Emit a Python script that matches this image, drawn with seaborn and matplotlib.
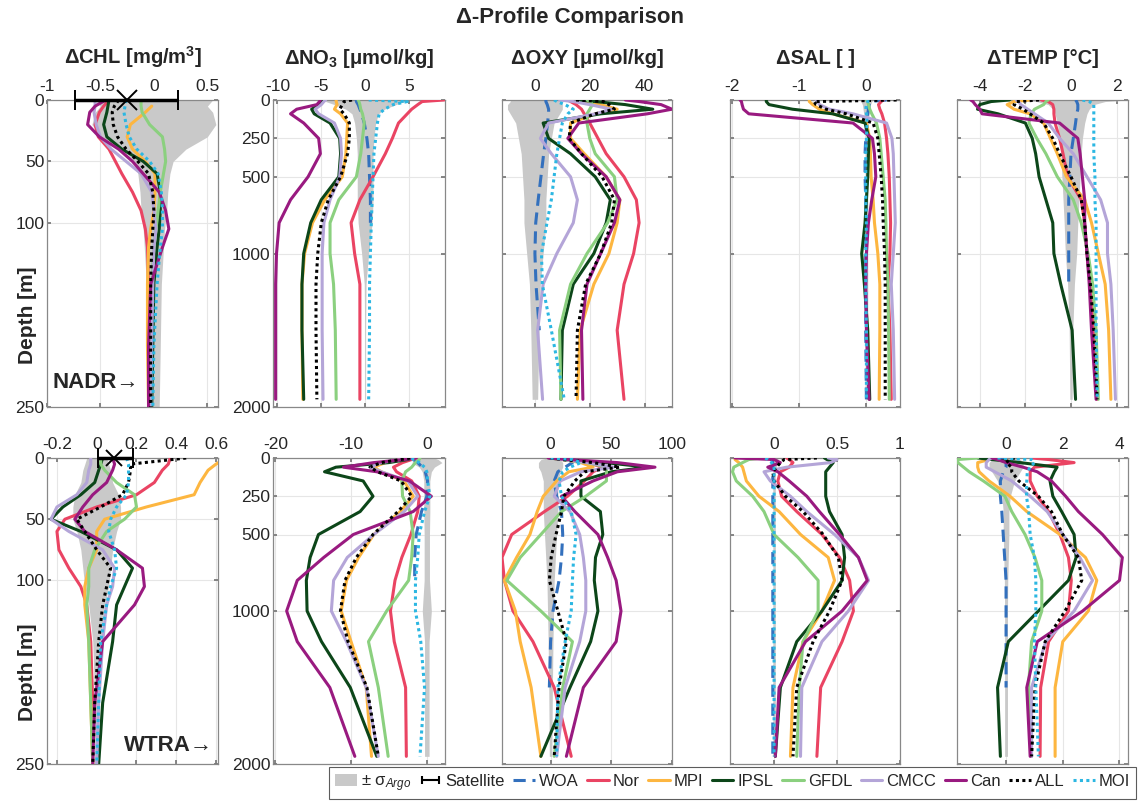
import numpy as np
import pandas as pd
import matplotlib
matplotlib.use("Agg")
import matplotlib.pyplot as plt
import seaborn as sns
from matplotlib.patches import Patch
from matplotlib.lines import Line2D

nan = np.nan

# depth grids [m]
depth_chl = [0, 5, 10, 20, 30, 40, 50, 60, 75, 90, 105, 120, 150, 200, 250]
depth_deep = [0, 10, 30, 60, 90, 150, 250, 350, 500, 650, 800, 1000, 1200, 1500, 1950]

models = ["WOA", "Nor", "MPI", "IPSL", "GFDL", "CMCC", "Can", "ALL", "MOI"]

# ---------------- NADR (top row) ----------------
nadr_chl = {
    "Nor": [-0.42, -0.47, -0.51, -0.55, -0.52, -0.42, -0.36, -0.3, -0.2, -0.12, -0.08, -0.06, -0.05, -0.05, -0.05],
    "MPI": [nan, -0.02, -0.08, -0.22, -0.25, -0.2, -0.08, 0.01, 0.01, 0.0, -0.03, -0.05, -0.06, -0.06, -0.05],
    "IPSL": [-0.42, -0.43, -0.44, -0.47, -0.44, -0.3, -0.1, 0.03, 0.06, 0.06, 0.05, 0.03, 0.0, -0.01, -0.02],
    "GFDL": [-0.12, -0.12, -0.11, -0.04, 0.08, 0.1, 0.11, 0.09, 0.06, 0.04, 0.02, 0.0, -0.02, -0.03, -0.03],
    "CMCC": [-0.55, -0.55, -0.56, -0.54, -0.5, -0.4, -0.26, -0.12, -0.02, 0.0, 0.02, 0.0, -0.01, -0.02, -0.03],
    "Can": [-0.45, -0.55, -0.6, -0.62, -0.51, -0.33, -0.2, -0.1, 0.05, 0.11, 0.14, 0.08, -0.03, -0.05, -0.05],
    "ALL": [-0.33, -0.37, -0.39, -0.38, -0.34, -0.26, -0.15, -0.05, -0.01, 0.0, -0.01, -0.02, -0.03, -0.03, -0.03],
    "MOI": [-0.26, -0.27, -0.28, -0.26, -0.23, -0.16, -0.04, 0.04, 0.07, 0.08, 0.08, 0.06, 0.03, 0.0, -0.01],
}
nadr_chl_sigma = [0.55, 0.5, 0.55, 0.58, 0.5, 0.3, 0.18, 0.15, 0.13, 0.12, 0.1, 0.09, 0.07, 0.06, 0.05]
nadr_sat = [-0.25, -0.74, 0.23]  # centre, low, high

nadr_no3 = {
    "WOA": [-1.0, -1.0, -0.8, -0.6, -0.4, -0.1, 0.2, 0.4, 0.5, 0.6, 0.6, nan, nan, nan, nan],
    "Nor": [9.0, 6.5, 6.0, 5.3, 4.8, 3.8, 3.1, 2.3, 0.9, -0.6, -1.6, -1.2, -0.6, -0.6, -0.6],
    "MPI": [-3.3, -3.3, -3.2, -3.5, -2.8, -2.0, -2.1, -2.2, -2.6, -4.6, -6.0, -6.9, -7.2, -7.2, -7.1],
    "IPSL": [-4.9, -5.0, -5.2, -6.1, -5.8, -4.0, -2.9, -2.8, -3.0, -5.0, -6.2, -7.0, -7.2, -7.2, -7.0],
    "GFDL": [-0.8, -0.7, -0.6, -0.5, -0.3, -0.1, -0.3, -0.5, -1.0, -3.0, -4.0, -4.0, -3.6, -3.4, -3.3],
    "CMCC": [-4.5, -4.7, -5.0, -5.7, -5.3, -3.5, -2.8, -2.7, -2.9, -4.0, -4.7, -4.9, -4.9, -4.9, -4.8],
    "Can": [-5.1, -5.2, -5.5, -7.8, -8.5, -7.0, -5.3, -5.1, -6.5, -8.5, -9.8, -10.1, -10.2, -10.2, -10.2],
    "ALL": [-1.5, -2.4, -2.6, -2.9, -2.4, -1.8, -1.8, -2.0, -2.8, -4.2, -5.0, -5.4, -5.6, -5.6, -5.5],
    "MOI": [0.4, 4.8, 3.2, 2.2, 1.6, 1.4, 1.2, 1.0, 0.9, 0.8, 0.7, 0.6, 0.5, 0.5, 0.4],
}
nadr_no3_sigma = [4.5, 4.5, 3.5, 2.2, 1.5, 1.2, 1.0, 0.9, 0.9, 0.9, 0.8, 0.4, 0.1, 0.05, 0.05]

nadr_oxy = {
    "WOA": [4, 4, 4.5, 5, 5, 4.6, 4, 3.2, 2.2, 1.2, 0.3, 0, 0.4, 1.6, nan],
    "Nor": [12, 13, 15, 17, 18, 20, 23, 26, 32.5, 37, 38, 36, 32.5, 30, 32.5],
    "MPI": [14, 18, 24, 30, 22, 13, 13, 18, 26, 31, 30, 27, 21.5, 16.5, 15.5],
    "IPSL": [14, 22, 33, 43, 24, 3, 5, 13, 22, 27.5, 26, 21.5, 14, 10, 9.5],
    "GFDL": [19, 20, 21, 20, 19, 19, 20, 22, 29, 30, 26.5, 19, 13, 9, 9.5],
    "CMCC": [9, 14, 20, 28, 22, 5, 2, 6, 13, 15.5, 14, 8, 3, 1, 2.8],
    "Can": [33, 38, 46, 50, 41, 16, 12, 17, 26, 31, 29, 24, 19, 17, 17.5],
    "ALL": [15, 25, 27, 29, 22, 13, 12.5, 17, 24.5, 29, 28, 24, 18.5, 15.5, 15],
    "MOI": [7, 8, 11, 14, 12, 10, 9, 8, 7, 6, 4.4, 2.4, 2.7, 6, 10.7],
}
nadr_oxy_sigma = [9, 9, 10, 10, 9, 7, 6, 5, 4.5, 4, 4, 3, 2, 1.5, 1]

nadr_sal = {
    "WOA": [0.3, 0.05, 0.04, 0.03, 0.02, 0.0, -0.01, -0.02, -0.02, -0.01, 0.0, -0.01, -0.01, -0.01, 0.0],
    "Nor": [0.25, 0.22, 0.18, 0.2, 0.23, 0.27, 0.3, 0.32, 0.34, 0.35, 0.36, 0.35, 0.32, 0.35, 0.37],
    "MPI": [-0.85, -0.85, -0.8, -0.7, -0.5, 0.0, 0.05, 0.06, 0.07, 0.1, 0.12, 0.17, 0.2, 0.2, 0.19],
    "IPSL": [-1.49, -1.49, -1.45, -1.1, -0.5, -0.02, 0.04, 0.03, 0.02, 0.0, -0.02, -0.07, -0.03, 0.02, 0.05],
    "GFDL": [0.0, 0.02, 0.03, 0.05, 0.08, 0.15, 0.2, 0.22, 0.25, 0.28, 0.29, 0.3, 0.32, 0.33, 0.34],
    "CMCC": [-0.75, -0.72, -0.7, -0.55, -0.2, 0.3, 0.38, 0.4, 0.41, 0.42, 0.43, 0.4, 0.37, 0.4, 0.42],
    "Can": [-1.88, -1.86, -1.85, -1.83, -1.75, -0.2, 0.09, 0.12, 0.14, 0.08, 0.03, 0.0, -0.01, 0.0, 0.04],
    "ALL": [0.45, -0.78, -0.75, -0.6, -0.3, 0.1, 0.17, 0.19, 0.22, 0.24, 0.25, 0.27, 0.28, 0.28, 0.28],
    "MOI": [0.03, 0.02, 0.0, -0.01, 0.0, 0.01, 0.0, -0.01, -0.01, -0.01, 0.0, -0.01, -0.01, 0.0, 0.0],
}
nadr_sal_sigma = [0.1, 0.08, 0.06, 0.05, 0.04, 0.03, 0.02, 0.02, 0.02, 0.02, 0.02, 0.02, 0.02, 0.02, 0.02]

nadr_temp = {
    "WOA": [0.2, 0.25, 0.3, 0.3, 0.25, 0.2, 0.1, 0.0, -0.05, -0.1, -0.1, -0.1, -0.1, nan, nan],
    "Nor": [-1.3, -1.0, -0.8, -0.75, -0.75, -0.7, -0.5, -0.35, -0.15, 0.45, 0.6, 0.7, 0.85, 1.0, 1.15],
    "MPI": [-1.8, -2.5, -2.8, -2.5, -1.8, -1.2, -0.9, -0.6, -0.2, 0.6, 0.9, 1.2, 1.5, 1.65, 1.75],
    "IPSL": [-2.7, -3.5, -4.0, -4.1, -3.2, -2.0, -1.7, -1.55, -1.4, -1.1, -0.8, -0.75, -0.45, 0.05, 0.2],
    "GFDL": [-1.0, -1.1, -1.2, -1.6, -1.75, -1.85, -1.5, -1.1, -0.6, 0.1, 0.45, 0.75, 0.95, 1.1, 1.2],
    "CMCC": [-2.4, -2.3, -2.2, -1.9, -1.6, -1.0, -0.5, 0.1, 0.7, 1.3, 1.6, 1.6, 1.75, 1.85, 1.95],
    "Can": [-4.4, -4.3, -4.2, -4.0, -3.9, -0.5, 0.3, 0.4, 0.5, 0.6, 0.6, 0.7, 0.8, 0.9, 1.1],
    "ALL": [-1.4, -2.4, -2.5, -2.1, -1.8, -1.2, -0.8, -0.5, 0.0, 0.45, 0.6, 0.7, 0.85, 1.0, 1.15],
    "MOI": [0.5, 0.8, 1.0, 1.0, 1.0, 1.0, 1.0, 1.0, 1.05, 1.05, 1.1, 1.1, 1.1, 1.1, 1.15],
}
nadr_temp_sigma = [2.5, 1.5, 1.0, 0.8, 0.7, 0.6, 0.5, 0.45, 0.4, 0.35, 0.3, 0.25, 0.15, 0.08, 0.05]

# ---------------- WTRA (bottom row) ----------------
wtra_chl = {
    "Nor": [0.37, 0.36, 0.33, 0.29, 0.2, 0.0, -0.16, -0.2, -0.19, -0.14, -0.08, -0.05, -0.03, -0.02, -0.02],
    "MPI": [0.65, 0.6, 0.56, 0.52, 0.49, 0.25, 0.04, 0.0, 0.0, -0.04, -0.06, -0.06, -0.04, -0.03, -0.02],
    "IPSL": [0.03, 0.02, 0.01, -0.01, -0.08, -0.17, -0.23, -0.08, 0.1, 0.18, 0.14, 0.1, 0.08, 0.03, 0.01],
    "GFDL": [0.02, 0.02, 0.04, 0.1, 0.19, 0.2, 0.14, 0.05, -0.01, -0.04, -0.04, -0.05, -0.04, -0.03, -0.02],
    "CMCC": [-0.03, -0.03, -0.04, -0.05, -0.1, -0.2, -0.23, -0.14, 0.03, 0.09, 0.08, 0.05, 0.03, 0.01, 0.0],
    "Can": [0.08, 0.09, 0.08, 0.05, -0.02, -0.07, -0.11, -0.06, 0.1, 0.23, 0.24, 0.19, 0.03, -0.01, -0.02],
    "ALL": [0.45, 0.17, 0.17, 0.16, 0.13, 0.02, -0.1, -0.06, 0.0, 0.07, 0.05, 0.03, 0.01, -0.01, -0.02],
    "MOI": [0.15, 0.16, 0.16, 0.16, 0.15, 0.1, 0.07, 0.06, 0.09, 0.1, 0.07, 0.05, 0.02, 0.01, 0.0],
}
wtra_chl_sigma = [0.05, 0.06, 0.07, 0.08, 0.11, 0.12, 0.12, 0.1, 0.08, 0.07, 0.06, 0.04, 0.02, 0.01, 0.01]
wtra_sat = [0.087, 0.007, 0.18]

wtra_no3 = {
    "WOA": [-2.0, -1.8, -1.2, -0.6, -0.2, 0.1, 0.0, -0.7, -1.4, -1.6, -1.6, nan, nan, nan, nan],
    "Nor": [-1.4, -2.0, -3.2, -4.4, -4.0, -2.0, -1.0, -1.2, -2.1, -3.3, -4.2, -4.8, -4.3, -2.8, -2.7],
    "MPI": [-2.5, -3.5, -5.5, -7.0, -6.0, -3.0, -1.8, -3.5, -7.0, -9.0, -10.6, -11.3, -10.0, -8.0, -7.3],
    "IPSL": [-2.0, -2.5, -5.0, -12.0, -13.5, -8.4, -7.1, -8.8, -14.3, -15.4, -15.9, -15.8, -13.9, -10.1, -6.6],
    "GFDL": [-0.9, -1.0, -1.5, -2.0, -2.8, -3.3, -3.2, -2.2, -1.8, -2.0, -2.4, -5.3, -7.7, -6.4, -5.1],
    "CMCC": [-2.5, -3.5, -6.0, -7.5, -6.0, -2.5, -1.2, -3.0, -7.0, -10.5, -12.3, -12.6, -10.6, -8.0, -6.4],
    "Can": [-1.4, -3.0, -7.0, -11.0, -6.6, -2.3, 0.6, -1.8, -9.7, -13.6, -17.1, -18.5, -17.1, -12.8, -9.5],
    "ALL": [-2.2, -3.5, -6.0, -7.5, -6.5, -3.4, -2.0, -3.8, -7.1, -9.3, -10.8, -11.4, -10.4, -7.9, -6.4],
    "MOI": [-2.0, -1.8, -1.0, -0.3, 0.0, 0.1, 0.4, -0.3, -1.0, -1.2, -1.5, -1.5, -0.8, -0.3, -0.9],
}
wtra_no3_sigma = [1.0, 1.5, 2.0, 1.0, 0.6, 0.4, 0.4, 0.4, 0.35, 0.35, 0.35, 0.6, 0.3, 0.3, 0.3]

wtra_oxy = {
    "WOA": [0, 15, 18, 12, 6, 3, 5, 9, 10, 9, 7, 2, 0, -1, nan],
    "Nor": [0, 10, 30, 43, 35, 28, 14, -5, -32, -40, -38, -31, -14.5, 3, 17],
    "MPI": [0, 10, 25, 35, 15, 5, -6, -11, -17, -28, -38, -29, -25, -16, -8],
    "IPSL": [-1, 10, 45, 80, 50, 25, 25, 41, 43, 37, 36, 39, 33, 16, -8],
    "GFDL": [0, 10, 30, 46, 46, 46, 29, 9, -8, -25, -36, -8, 18, 10, 3],
    "CMCC": [0, 10, 30, 52, 25, 8, 3, 16, 24, 27, 29, 29, 24, 12, 5],
    "Can": [-2, 15, 55, 86, 55, 35, 9, 20, 39, 47, 54, 58, 54, 27, 13],
    "ALL": [0, 10, 35, 57, 28, 20, 11, 9, 4.5, 0.5, -1, 6, 13, 7, 3],
    "MOI": [0, 18, 25, 16, 10, 7, 9, 17, 21, 19, 18, 17, 12, 6, 5],
}
wtra_oxy_sigma = [3, 8, 10, 10, 8, 6, 6, 6, 5, 4, 3, 2.5, 2, 1.5, 1]

wtra_sal = {
    "WOA": [-0.03, -0.02, -0.01, -0.01, -0.01, -0.01, -0.01, -0.01, -0.01, -0.01, -0.01, -0.01, -0.01, -0.01, -0.01],
    "Nor": [0.1, 0.12, 0.15, 0.12, 0.05, 0.03, 0.06, 0.18, 0.38, 0.52, 0.6, 0.63, 0.54, 0.37, 0.34],
    "MPI": [-0.3, -0.31, -0.28, -0.25, -0.24, -0.22, -0.12, 0.04, 0.21, 0.43, 0.48, 0.38, 0.23, 0.15, 0.13],
    "IPSL": [0.4, 0.42, 0.47, 0.44, 0.41, 0.41, 0.41, 0.44, 0.54, 0.56, 0.54, 0.38, 0.18, 0.05, 0.01],
    "GFDL": [-0.1, -0.2, -0.25, -0.32, -0.33, -0.3, -0.17, -0.08, 0.0, 0.19, 0.35, 0.35, 0.23, 0.2, 0.18],
    "CMCC": [0.43, 0.5, 0.45, 0.1, -0.08, -0.03, 0.13, 0.26, 0.48, 0.67, 0.75, 0.59, 0.38, 0.22, 0.21],
    "Can": [-0.31, 0.0, 0.05, -0.05, 0.03, 0.12, 0.26, 0.36, 0.52, 0.67, 0.74, 0.54, 0.25, 0.04, 0.01],
    "ALL": [0.34, 0.08, 0.05, 0.02, -0.01, 0.0, 0.09, 0.23, 0.39, 0.51, 0.54, 0.44, 0.31, 0.18, 0.15],
    "MOI": [-0.07, -0.05, -0.02, 0.0, 0.0, 0.0, 0.0, 0.0, 0.0, 0.0, 0.0, 0.0, 0.0, 0.0, 0.0],
}
wtra_sal_sigma = [0.03, 0.03, 0.02, 0.02, 0.01, 0.01, 0.01, 0.01, 0.01, 0.01, 0.01, 0.01, 0.01, 0.01, 0.01]

wtra_temp = {
    "WOA": [-0.2, -0.1, 0.0, 0.0, -0.1, -0.2, -0.2, -0.15, -0.1, -0.05, 0.0, 0.0, 0.0, 0.0, nan],
    "Nor": [0.9, 1.5, 2.4, 1.0, 0.85, 0.85, 1.1, 1.5, 1.9, 2.2, 2.3, 2.2, 1.5, 1.22, 1.2],
    "MPI": [-0.3, -0.6, -1.0, -1.0, -0.95, -0.6, 0.14, 0.73, 1.9, 2.8, 3.2, 2.9, 2.0, 1.73, 1.73],
    "IPSL": [-1.0, -0.5, 0.5, 1.8, 1.7, 1.55, 1.65, 1.96, 2.4, 2.47, 2.2, 1.14, 0.08, -0.3, -0.2],
    "GFDL": [-1.0, -1.7, -1.7, -1.5, -1.3, -0.8, -0.04, 0.2, 0.67, 1.02, 1.26, 1.26, 0.9, 0.79, 0.9],
    "CMCC": [-0.5, -0.6, -0.7, -0.7, -0.4, 0.2, 0.85, 1.45, 2.0, 2.6, 3.05, 2.4, 1.4, 0.9, 0.9],
    "Can": [-0.5, -0.3, 0.0, 0.6, 1.1, 1.6, 2.1, 2.55, 3.4, 4.1, 4.0, 2.7, 1.1, 0.73, 0.85],
    "ALL": [0.3, 0.15, 0.0, 0.2, 0.2, 0.45, 1.14, 1.6, 2.0, 2.55, 2.67, 2.08, 1.38, 1.02, 0.9],
    "MOI": [-0.3, 0.9, 1.0, 0.85, 0.75, 0.73, 0.72, 0.8, 0.85, 1.0, 1.05, 1.05, 1.0, 1.05, 1.14],
}
wtra_temp_sigma = [0.3, 0.5, 0.6, 0.6, 0.5, 0.3, 0.15, 0.1, 0.1, 0.08, 0.06, 0.05, 0.05, 0.05, 0.05]

titles = [r"ΔCHL [mg/m$^\mathbf{3}$]", r"ΔNO$_\mathbf{3}$ [μmol/kg]", "ΔOXY [μmol/kg]", "ΔSAL [ ]", "ΔTEMP [°C]"]

palette = {"WOA": "#3370bd", "Nor": "#ea4463", "MPI": "#fdb640", "IPSL": "#0c4619",
           "GFDL": "#8bd07f", "CMCC": "#b4a5d8", "Can": "#991a80", "ALL": "black", "MOI": "#2cb7e2"}
dashes = {"WOA": (4, 2.2), "Nor": "", "MPI": "", "IPSL": "", "GFDL": "", "CMCC": "",
          "Can": "", "ALL": (1, 1.1), "MOI": (1, 1.1)}
GRAY = "#c9c9c9"

sns.set_theme(style="white")
plt.rcParams["font.family"] = ["Liberation Sans", "DejaVu Sans"]
plt.rcParams["axes.unicode_minus"] = False
plt.rcParams["mathtext.fontset"] = "custom"
plt.rcParams["mathtext.rm"] = "Liberation Sans"
plt.rcParams["mathtext.it"] = "Liberation Sans:italic"
plt.rcParams["mathtext.bf"] = "Liberation Sans:bold"


def draw_panel(ax, depth, series, sigma, xlim, xticks, ylim, yticks, ylabels):
    d = np.array(depth, dtype=float)
    s = np.array(sigma, dtype=float)
    ax.fill_betweenx(d, -s, s, color=GRAY, lw=0, zorder=1)
    rows = []
    for m in models:
        if m not in series:
            continue
        for dd, v in zip(depth, series[m]):
            if not np.isnan(v):
                rows.append({"depth": dd, "value": v, "model": m})
    df = pd.DataFrame(rows)
    order = [m for m in models if m in series]
    sns.lineplot(data=df, x="value", y="depth", hue="model", style="model",
                 hue_order=order, style_order=order, palette=palette, dashes=dashes,
                 orient="y", sort=False, estimator=None, linewidth=2.2,
                 legend=False, ax=ax, zorder=3)
    ax.set_xlim(*xlim)
    ax.set_ylim(ylim, 0)
    ax.set_xticks(xticks)
    ax.set_xticklabels([f"{t:g}" for t in xticks])
    ax.set_yticks(yticks)
    if ylabels:
        ax.set_yticklabels([str(t) for t in ylabels])
    else:
        ax.set_yticklabels([])
    ax.set_xlabel("")
    ax.set_ylabel("")
    ax.grid(True, color="#e6e6e6", lw=0.8, zorder=0)
    ax.set_axisbelow(True)
    ax.tick_params(top=True, bottom=True, left=True, right=True, labeltop=True,
                   labelbottom=False, direction="in", length=3, labelsize=12.5,
                   color="#777777")
    ax.tick_params(axis="x", pad=4)
    ax.tick_params(axis="y", pad=2)
    for sp in ax.spines.values():
        sp.set_color("#888888")
        sp.set_linewidth(0.9)


fig = plt.figure(figsize=(11.39, 8.01), dpi=100)
W, H = 1139, 801
cols_px = [(47, 218), (273, 445), (502, 672), (730, 900), (957, 1128)]
rows_px = [(100, 407), (458, 764)]

top_data = [nadr_chl, nadr_no3, nadr_oxy, nadr_sal, nadr_temp]
top_sig = [nadr_chl_sigma, nadr_no3_sigma, nadr_oxy_sigma, nadr_sal_sigma, nadr_temp_sigma]
top_xlim = [(-1.0, 0.6), (-10.5, 9.1), (-12, 50), (-2.03, 0.5), (-5.0, 2.5)]
top_xticks = [[-1, -0.5, 0, 0.5], [-10, -5, 0, 5], [0, 20, 40], [-2, -1, 0], [-4, -2, 0, 2]]

bot_data = [wtra_chl, wtra_no3, wtra_oxy, wtra_sal, wtra_temp]
bot_sig = [wtra_chl_sigma, wtra_no3_sigma, wtra_oxy_sigma, wtra_sal_sigma, wtra_temp_sigma]
bot_xlim = [(-0.25, 0.61), (-20.3, 2.4), (-40, 100), (-0.35, 1.0), (-1.73, 4.3)]
bot_xticks = [[-0.2, 0, 0.2, 0.4, 0.6], [-20, -10, 0], [0, 50, 100], [0, 0.5, 1], [0, 2, 4]]

chl_yticks = [0, 50, 100, 250]
deep_yticks = [0, 250, 500, 1000, 2000]

axes = {}
for r, (data, sig, xl, xt) in enumerate([(top_data, top_sig, top_xlim, top_xticks),
                                          (bot_data, bot_sig, bot_xlim, bot_xticks)]):
    y0, y1 = rows_px[r]
    for c in range(5):
        x0, x1 = cols_px[c]
        ax = fig.add_axes([x0 / W, 1 - y1 / H, (x1 - x0) / W, (y1 - y0) / H])
        if c == 0:
            draw_panel(ax, depth_chl, data[c], sig[c], xl[c], xt[c], 250, chl_yticks, chl_yticks)
        elif c == 1:
            draw_panel(ax, depth_deep, data[c], sig[c], xl[c], xt[c], 2000, deep_yticks, deep_yticks)
        else:
            draw_panel(ax, depth_deep, data[c], sig[c], xl[c], xt[c], 2000, deep_yticks, None)
        if r == 0:
            ax.set_title(titles[c], fontsize=14.5, fontweight="bold", pad=11)
        axes[(r, c)] = ax

# satellite surface chlorophyll with error range
for r, sat in [(0, nadr_sat), (1, wtra_sat)]:
    ax = axes[(r, 0)]
    ax.errorbar([sat[0]], [0], xerr=[[sat[0] - sat[1]], [sat[2] - sat[0]]],
                fmt="x", color="black", ms=15 if r == 0 else 11, mew=1.4,
                elinewidth=2.5, capsize=7, capthick=2.5, zorder=6, clip_on=False)

# hidden errorbar (outside the limits) used only as the legend symbol
sat_handle = axes[(0, 1)].errorbar([50], [5000], xerr=[[1]], fmt="none", color="black",
                                   elinewidth=1.5, capsize=3, capthick=1.5)

for r, name in [(0, "NADR→"), (1, "WTRA→")]:
    ax = axes[(r, 0)]
    ax.set_ylabel("Depth [m]", fontsize=15, fontweight="bold")
    ax.yaxis.set_label_coords(-0.06, 0.3)
    if r == 0:
        ax.text(0.03, 0.08, name, transform=ax.transAxes, fontsize=16,
                fontweight="bold", ha="left", va="center", zorder=7)
    else:
        ax.text(0.97, 0.06, name, transform=ax.transAxes, fontsize=16,
                fontweight="bold", ha="right", va="center", zorder=7)

fig.text(0.5, 1 - 18 / H, "Δ-Profile Comparison", ha="center", va="center",
         fontsize=16, fontweight="bold")

handles = [Patch(facecolor=GRAY, edgecolor="none"), sat_handle]
labels = [r"± σ$_{Argo}$", "Satellite"]
for m in models:
    ds = dashes[m]
    ls = "-" if ds == "" else (0, ds)
    handles.append(Line2D([], [], color=palette[m], lw=2.2, linestyle=ls))
    labels.append(m)
leg = fig.legend(handles, labels, ncol=11, loc="lower right", bbox_to_anchor=(0.999, 0.0),
                 frameon=True, fancybox=False, edgecolor="#333333", fontsize=12,
                 handlelength=1.3, handletextpad=0.25, columnspacing=0.5,
                 borderpad=0.35, borderaxespad=0.1)
leg.get_frame().set_linewidth(0.8)

fig.savefig("out.png", dpi=100)
